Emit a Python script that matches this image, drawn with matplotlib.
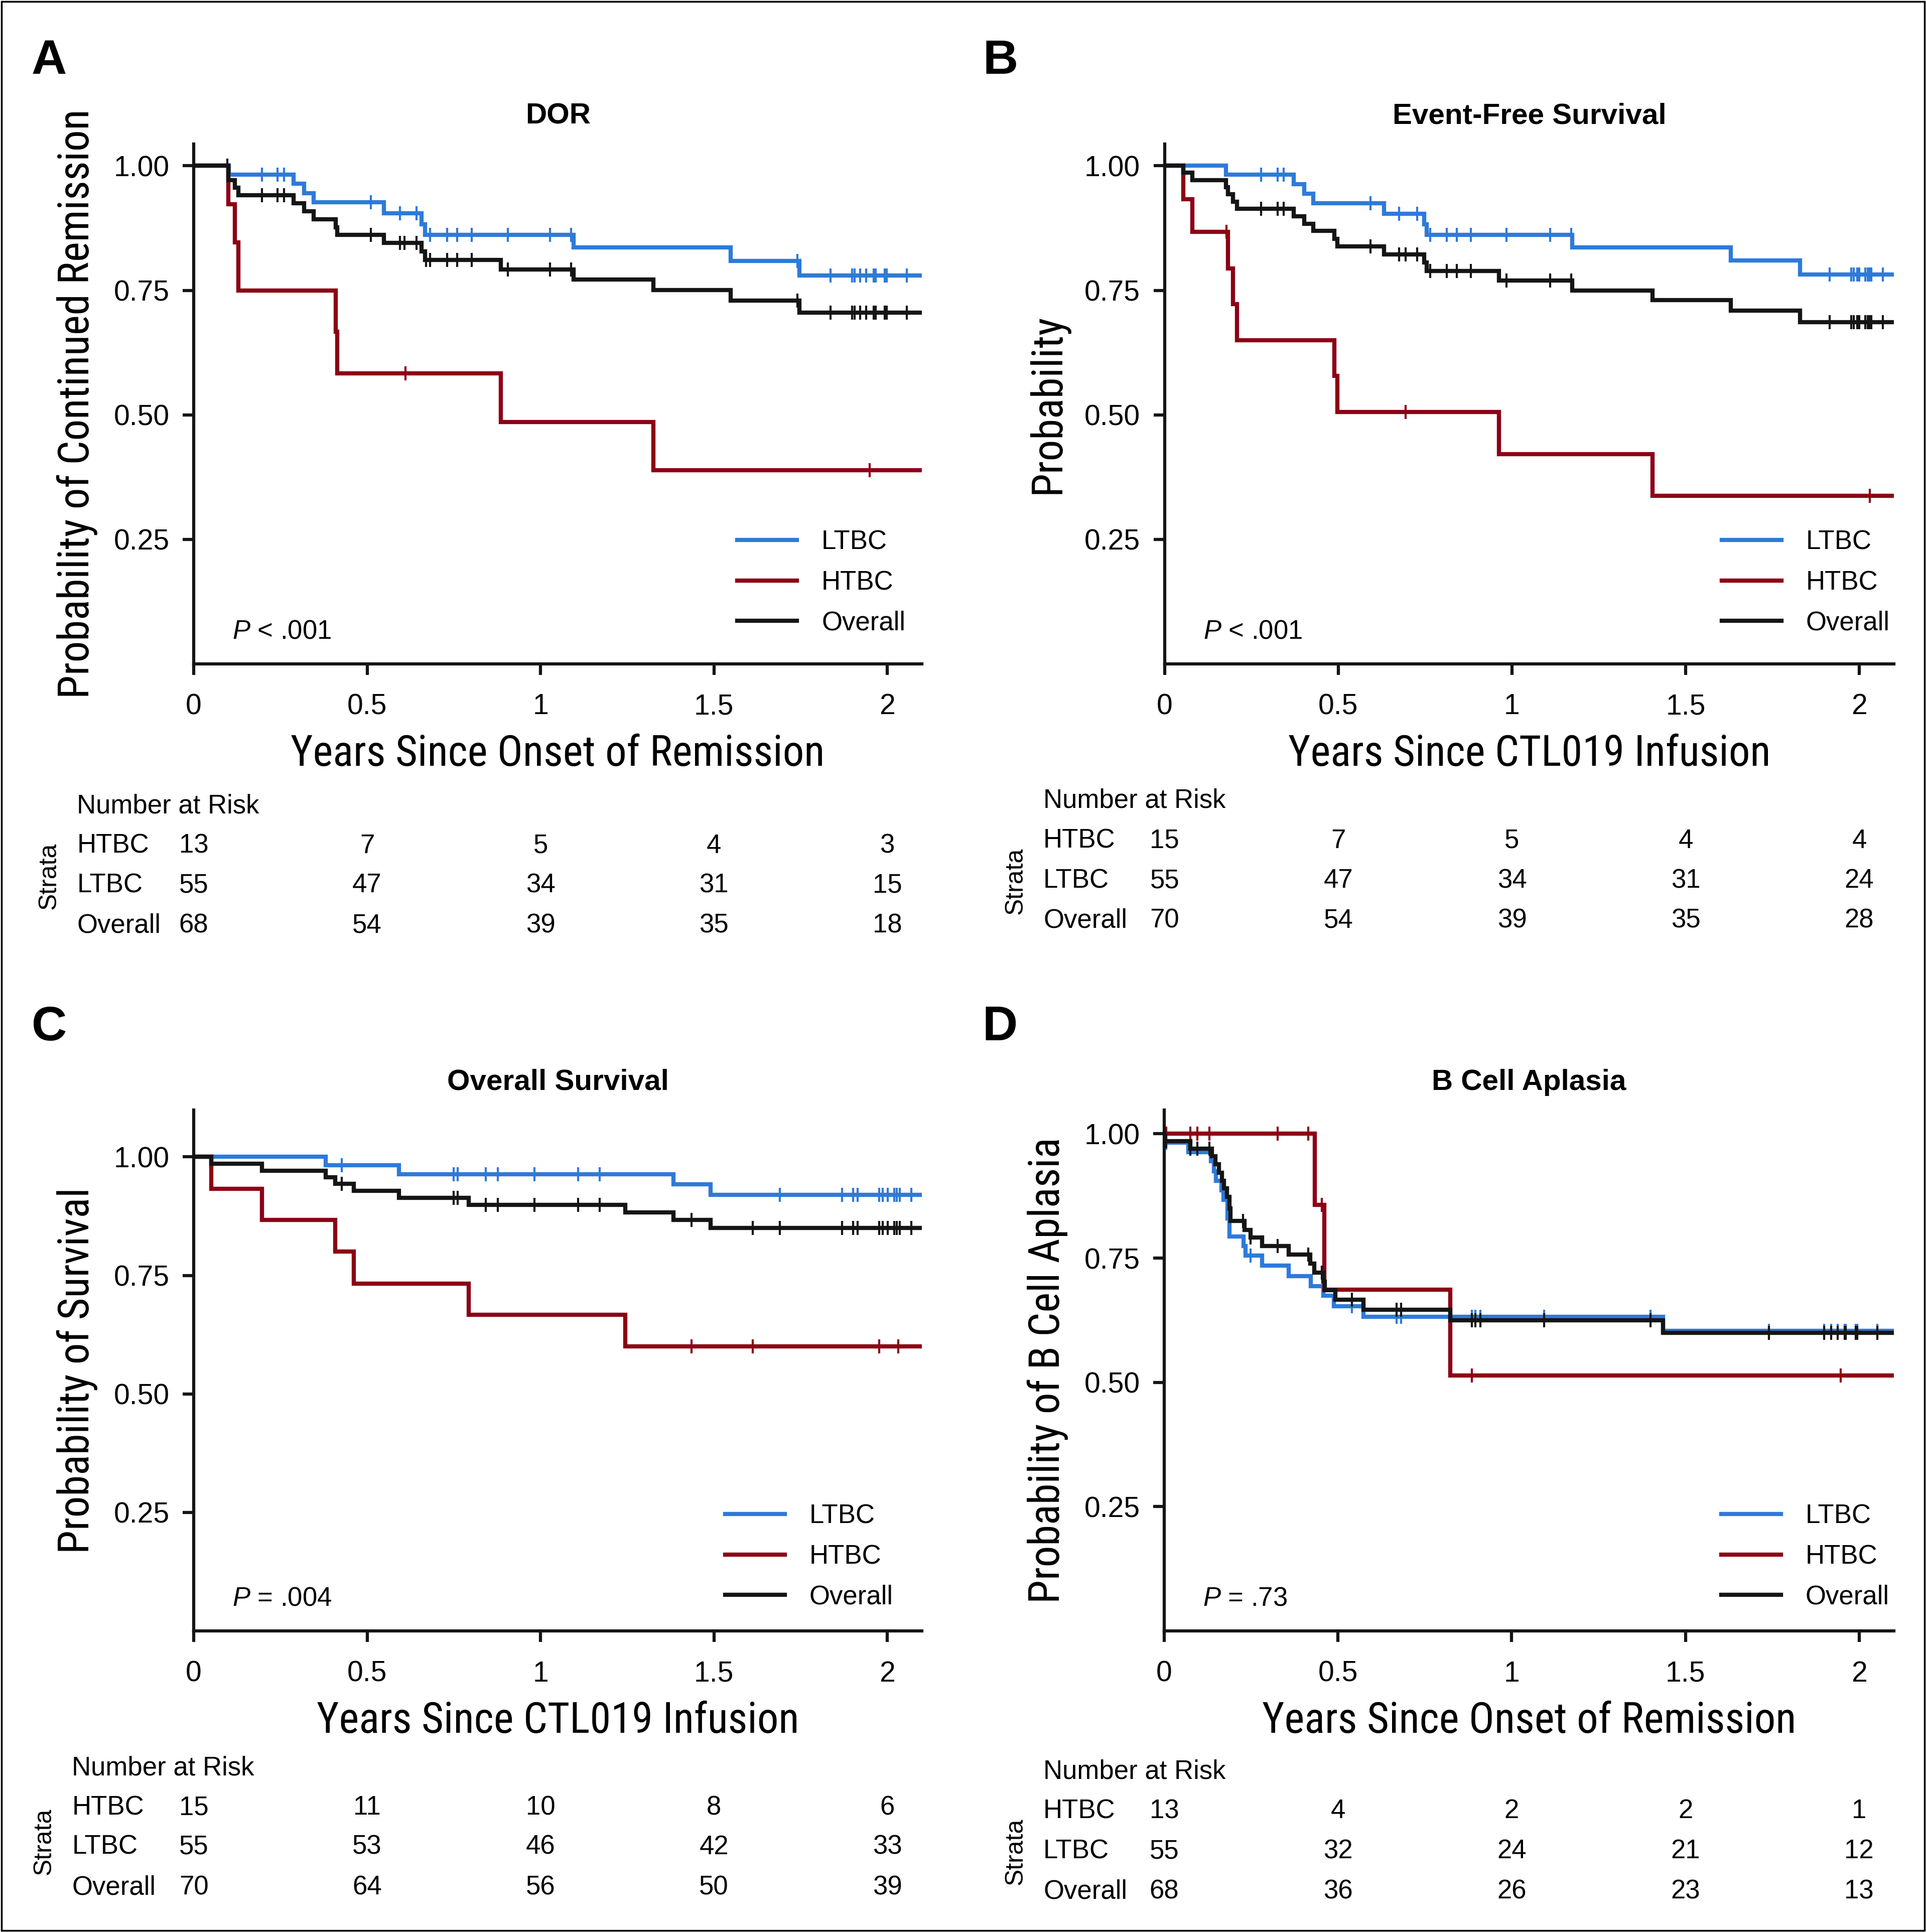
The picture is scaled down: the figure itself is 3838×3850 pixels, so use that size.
import os
import numpy as np
import matplotlib
matplotlib.use('Agg')
import matplotlib.pyplot as plt
from matplotlib import font_manager, transforms
from matplotlib.font_manager import FontProperties
from matplotlib.patches import Rectangle

# ---------------- data ----------------
# each curve: step times, survival after each step, censor times
# A  DOR
dor_ltbc_t = [0.101, 0.288, 0.318, 0.345, 0.549, 0.657, 0.667, 1.095, 1.549, 1.747]
dor_ltbc_s = [0.982, 0.964, 0.945, 0.927, 0.905, 0.883, 0.861, 0.836, 0.809, 0.780]
dor_ltbc_c = [0.197, 0.241, 0.260, 0.510, 0.594, 0.643, 0.682, 0.731, 0.759, 0.801, 0.906,
              1.027, 1.088, 1.741, 1.836, 1.899, 1.905, 1.922, 1.939, 1.960, 1.966, 1.992,
              1.998, 2.056]
dor_htbc_t = [0.100, 0.118, 0.128, 0.409, 0.414, 0.885, 1.325]
dor_htbc_s = [0.923, 0.846, 0.750, 0.667, 0.583, 0.486, 0.389]
dor_htbc_c = [0.611, 1.949]
dor_all_t = [0.100, 0.118, 0.128, 0.288, 0.318, 0.345, 0.409, 0.414, 0.549, 0.657, 0.667,
             0.885, 1.095, 1.325, 1.549, 1.747]
dor_all_s = [0.971, 0.956, 0.941, 0.925, 0.909, 0.893, 0.877, 0.861, 0.845, 0.828, 0.811,
             0.792, 0.772, 0.751, 0.729, 0.705]
dor_all_c = [0.097, 0.197, 0.241, 0.260, 0.510, 0.594, 0.608, 0.643, 0.670, 0.682, 0.731,
             0.759, 0.801, 0.906, 1.027, 1.088, 1.741, 1.836, 1.899, 1.905, 1.922, 1.939,
             1.960, 1.966, 1.992, 1.998, 2.056]

# B  Event-free survival
efs_ltbc_t = [0.177, 0.371, 0.402, 0.428, 0.631, 0.747, 0.754, 1.173, 1.630, 1.829]
efs_ltbc_s = [0.982, 0.963, 0.944, 0.925, 0.904, 0.883, 0.861, 0.836, 0.810, 0.782]
efs_ltbc_c = [0.278, 0.325, 0.343, 0.593, 0.675, 0.727, 0.764, 0.812, 0.841, 0.881, 0.984,
              1.110, 1.170, 1.914, 1.977, 1.984, 1.994, 2.000, 2.017, 2.024, 2.030, 2.034,
              2.068]
efs_htbc_t = [0.053, 0.080, 0.183, 0.197, 0.208, 0.488, 0.497, 0.963, 1.405]
efs_htbc_s = [0.933, 0.867, 0.794, 0.722, 0.650, 0.578, 0.506, 0.421, 0.337]
efs_htbc_c = [0.178, 0.694, 2.030]
efs_all_t = [0.053, 0.080, 0.177, 0.183, 0.197, 0.208, 0.371, 0.402, 0.428, 0.488, 0.497,
             0.631, 0.747, 0.754, 0.963, 1.173, 1.405, 1.630, 1.829]
efs_all_s = [0.986, 0.971, 0.957, 0.943, 0.928, 0.914, 0.899, 0.884, 0.869, 0.853, 0.838,
             0.822, 0.806, 0.789, 0.770, 0.750, 0.730, 0.709, 0.686]
efs_all_c = [0.180, 0.278, 0.325, 0.343, 0.593, 0.675, 0.694, 0.727, 0.764, 0.812, 0.841,
             0.881, 0.984, 1.110, 1.170, 1.914, 1.977, 1.984, 1.994, 2.000, 2.017, 2.024,
             2.030, 2.034, 2.068]

# C  Overall survival
os_ltbc_t = [0.380, 0.592, 1.384, 1.491]
os_ltbc_s = [0.982, 0.963, 0.942, 0.920]
os_ltbc_c = [0.427, 0.750, 0.761, 0.842, 0.877, 0.983, 1.109, 1.170, 1.690, 1.869, 1.902,
             1.915, 1.977, 1.987, 2.001, 2.020, 2.028, 2.036, 2.069]
os_htbc_t = [0.051, 0.197, 0.408, 0.462, 0.793, 1.244]
os_htbc_s = [0.933, 0.867, 0.800, 0.733, 0.667, 0.600]
os_htbc_c = [1.436, 1.612, 1.977, 2.031]
os_all_t = [0.051, 0.197, 0.380, 0.408, 0.462, 0.592, 0.793, 1.244, 1.384, 1.491]
os_all_s = [0.986, 0.971, 0.957, 0.943, 0.928, 0.914, 0.899, 0.883, 0.867, 0.850]
os_all_c = [0.427, 0.750, 0.761, 0.842, 0.877, 0.983, 1.109, 1.170, 1.436, 1.612, 1.690,
            1.869, 1.902, 1.915, 1.977, 1.987, 2.001, 2.020, 2.028, 2.036, 2.069]

# D  B cell aplasia
bca_ltbc_t = [0.0, 0.069, 0.134, 0.143, 0.149, 0.165, 0.170, 0.182, 0.187, 0.228, 0.234,
              0.281, 0.358, 0.421, 0.458, 0.488, 0.573, 1.436]
bca_ltbc_s = [0.982, 0.963, 0.945, 0.925, 0.906, 0.886, 0.867, 0.830, 0.793, 0.774, 0.755,
              0.735, 0.714, 0.694, 0.674, 0.653, 0.632, 0.604]
bca_ltbc_c = [0.005, 0.231, 0.249, 0.540, 0.669, 0.682, 0.886, 0.895, 0.910, 1.094, 1.400,
              1.740, 1.900, 1.920, 1.938, 1.958, 1.962, 1.991, 1.995, 2.053]
bca_htbc_t = [0.433, 0.461, 0.823]
bca_htbc_s = [0.857, 0.686, 0.514]
bca_htbc_c = [0.005, 0.075, 0.095, 0.130, 0.327, 0.415, 0.453, 0.885, 1.947]
bca_all_t = [0.0, 0.075, 0.137, 0.147, 0.158, 0.166, 0.172, 0.181, 0.187, 0.190, 0.231,
             0.249, 0.281, 0.358, 0.420, 0.432, 0.458, 0.462, 0.493, 0.573, 0.823, 1.436]
bca_all_s = [0.985, 0.970, 0.955, 0.939, 0.922, 0.906, 0.890, 0.873, 0.850, 0.825, 0.807,
             0.791, 0.774, 0.757, 0.739, 0.721, 0.703, 0.685, 0.666, 0.646, 0.625, 0.600]
bca_all_c = [0.005, 0.075, 0.095, 0.130, 0.227, 0.249, 0.327, 0.415, 0.453, 0.540, 0.669,
             0.682, 0.886, 0.895, 0.910, 1.094, 1.400, 1.740, 1.900, 1.920, 1.938, 1.958,
             1.962, 1.991, 1.995, 2.053]

# number at risk at 0, 0.5, 1, 1.5, 2 years (rows: HTBC, LTBC, Overall)
risk_times = [0, 0.5, 1, 1.5, 2]
risk_rows = ['HTBC', 'LTBC', 'Overall']
dor_risk = [[13, 7, 5, 4, 3], [55, 47, 34, 31, 15], [68, 54, 39, 35, 18]]
efs_risk = [[15, 7, 5, 4, 4], [55, 47, 34, 31, 24], [70, 54, 39, 35, 28]]
os_risk = [[15, 11, 10, 8, 6], [55, 53, 46, 42, 33], [70, 64, 56, 50, 39]]
bca_risk = [[13, 4, 2, 2, 1], [55, 32, 24, 21, 12], [68, 36, 26, 23, 13]]

xticks = [0, 0.5, 1, 1.5, 2]
xtick_labels = ['0', '0.5', '1', '1.5', '2']
yticks = [0.25, 0.50, 0.75, 1.00]
ytick_labels = ['0.25', '0.50', '0.75', '1.00']

# ---------------- style ----------------
plt.rcParams['font.family'] = ['Liberation Sans', 'DejaVu Sans']
plt.rcParams['mathtext.fontset'] = 'custom'
plt.rcParams['mathtext.it'] = 'Liberation Sans:italic'
plt.rcParams['mathtext.rm'] = 'Liberation Sans'


def find_font(keys):
    for key in keys:
        for f in font_manager.fontManager.ttflist:
            if os.path.basename(f.fname).lower().startswith(key.lower()):
                return f.fname
    return None


# axis titles are set in a condensed face in the original
cond_path = find_font(['LiberationSansNarrow-Regular', 'RobotoCondensed-Regular',
                       'Roboto_Condensed-Regular', 'NotoSans-Condensed.',
                       'NotoSans-CondensedRegular', 'NotoSans-Condensed-Regular',
                       'OpenSans-CondensedRegular', 'OpenSans_Condensed-Regular',
                       'OpenSansCondensed-Regular', 'DejaVuSansCondensed.'])
if cond_path:
    label_font = FontProperties(fname=cond_path, size=61)
else:
    label_font = FontProperties(family='Liberation Sans', size=53)

BLUE = '#2e7ad9'
RED = '#8c0015'
BLACK = '#151515'
XMAX = 2.1
FS = 38

fig = plt.figure(figsize=(38.38, 38.5), dpi=100)


def km(ax, t_ev, s_ev, t_c, color, label):
    t_ev = np.asarray(t_ev)
    s_ev = np.asarray(s_ev)
    x = np.concatenate([[0.0], t_ev, [XMAX]])
    y = np.concatenate([[1.0], s_ev, [s_ev[-1]]])
    ax.step(x, y, where='post', color=color, lw=6, label=label, solid_joinstyle='miter')
    s_all = np.concatenate([[1.0], s_ev])
    idx = np.searchsorted(t_ev, t_c, side='right')
    ax.plot(t_c, s_all[idx], ls='none', marker='|', ms=20, mew=3, color=color)


def panel(rect, ytop, curves, title, xlabel, ylabel, ptext, letter, letter_xy,
          risk, risk_y, label_x, strata_xy, leg_xy):
    ax = fig.add_axes(rect)
    for t_ev, s_ev, t_c, color, label in curves:
        km(ax, t_ev, s_ev, t_c, color, label)
    ax.set_xlim(0, XMAX)
    ax.set_ylim(0, ytop)
    ax.set_xticks(xticks)
    ax.set_xticklabels(xtick_labels)
    ax.set_yticks(yticks)
    ax.set_yticklabels(ytick_labels)
    for s in ['top', 'right']:
        ax.spines[s].set_visible(False)
    for s in ['left', 'bottom']:
        ax.spines[s].set_linewidth(4.5)
        ax.spines[s].set_color(BLACK)
    ax.tick_params(width=4.5, length=16, labelsize=41, color=BLACK)
    ax.tick_params(axis='x', pad=26)
    ax.tick_params(axis='y', pad=19)
    ax.set_title(title, fontsize=42, fontweight='bold', pad=29)
    ax.set_xlabel(xlabel, fontproperties=label_font, va='center')
    ax.xaxis.set_label_coords(0.5, -0.173)
    ax.set_ylabel(ylabel, fontproperties=label_font, va='center')
    ax.yaxis.set_label_coords(-0.16, 0.5)
    ax.text(0.053, 0.062, ptext, transform=ax.transAxes, fontsize=FS, va='center')

    h, l = ax.get_legend_handles_labels()
    ax.legend(h, l, loc='center left', bbox_to_anchor=leg_xy, frameon=False,
              fontsize=FS, handlelength=2.25, handletextpad=0.93, labelspacing=0.58,
              borderpad=0, borderaxespad=0)

    fig.text(letter_xy[0], letter_xy[1], letter, fontsize=70, fontweight='bold',
             ha='center', va='center')

    # number-at-risk table
    tr = transforms.blended_transform_factory(ax.transData, fig.transFigure)
    fig.text(label_x, risk_y[0], 'Number at Risk', fontsize=FS, va='center')
    for name, counts, yy in zip(risk_rows, risk, risk_y[1:]):
        fig.text(label_x, yy, name, fontsize=FS, va='center')
        for tx, n in zip(risk_times, counts):
            ax.text(tx, yy, str(n), transform=tr, fontsize=FS, ha='center', va='center')
    fig.text(strata_xy[0], strata_xy[1], 'Strata', fontsize=36, rotation=90,
             ha='center', va='center')
    return ax


panel([0.1006, 0.6564, 0.3781, 0.2691], 1.044,
      [(dor_ltbc_t, dor_ltbc_s, dor_ltbc_c, BLUE, 'LTBC'),
       (dor_htbc_t, dor_htbc_s, dor_htbc_c, RED, 'HTBC'),
       (dor_all_t, dor_all_s, dor_all_c, BLACK, 'Overall')],
      'DOR', 'Years Since Onset of Remission', 'Probability of Continued Remission',
      r'$\mathit{P}$ < .001', 'A', (0.0255, 0.9682),
      dor_risk, [0.5826, 0.5621, 0.5417, 0.5209], 0.0399, (0.0255, 0.5468),
      (0.7464, 0.156))

panel([0.6047, 0.6564, 0.3787, 0.2691], 1.044,
      [(efs_ltbc_t, efs_ltbc_s, efs_ltbc_c, BLUE, 'LTBC'),
       (efs_htbc_t, efs_htbc_s, efs_htbc_c, RED, 'HTBC'),
       (efs_all_t, efs_all_s, efs_all_c, BLACK, 'Overall')],
      'Event-Free Survival', 'Years Since CTL019 Infusion', 'Probability',
      r'$\mathit{P}$ < .001', 'B', (0.5193, 0.9682),
      efs_risk, [0.5856, 0.5648, 0.5441, 0.5236], 0.5417, (0.5274, 0.5441),
      (0.7637, 0.156))

panel([0.1006, 0.1558, 0.3781, 0.2697], 1.099,
      [(os_ltbc_t, os_ltbc_s, os_ltbc_c, BLUE, 'LTBC'),
       (os_htbc_t, os_htbc_s, os_htbc_c, RED, 'HTBC'),
       (os_all_t, os_all_s, os_all_c, BLACK, 'Overall')],
      'Overall Survival', 'Years Since CTL019 Infusion', 'Probability of Survival',
      r'$\mathit{P}$ = .004', 'C', (0.0255, 0.4680),
      os_risk, [0.0848, 0.0644, 0.0439, 0.0231], 0.0373, (0.0229, 0.0470),
      (0.7298, 0.1424))

panel([0.6045, 0.1558, 0.3788, 0.2697], 1.048,
      [(bca_ltbc_t, bca_ltbc_s, bca_ltbc_c, BLUE, 'LTBC'),
       (bca_htbc_t, bca_htbc_s, bca_htbc_c, RED, 'HTBC'),
       (bca_all_t, bca_all_s, bca_all_c, BLACK, 'Overall')],
      'B Cell Aplasia', 'Years Since Onset of Remission', 'Probability of B Cell Aplasia',
      r'$\mathit{P}$ = .73', 'D', (0.5193, 0.4680),
      bca_risk, [0.0829, 0.0625, 0.0417, 0.0209], 0.5417, (0.5274, 0.0417),
      (0.7634, 0.1424))

# thin frame round the whole figure
fig.patches.append(Rectangle((0.0008, 0.0008), 0.9984, 0.9984, transform=fig.transFigure,
                             fill=False, lw=2.5, ec='black'))

fig.savefig('out.png', dpi=100)
